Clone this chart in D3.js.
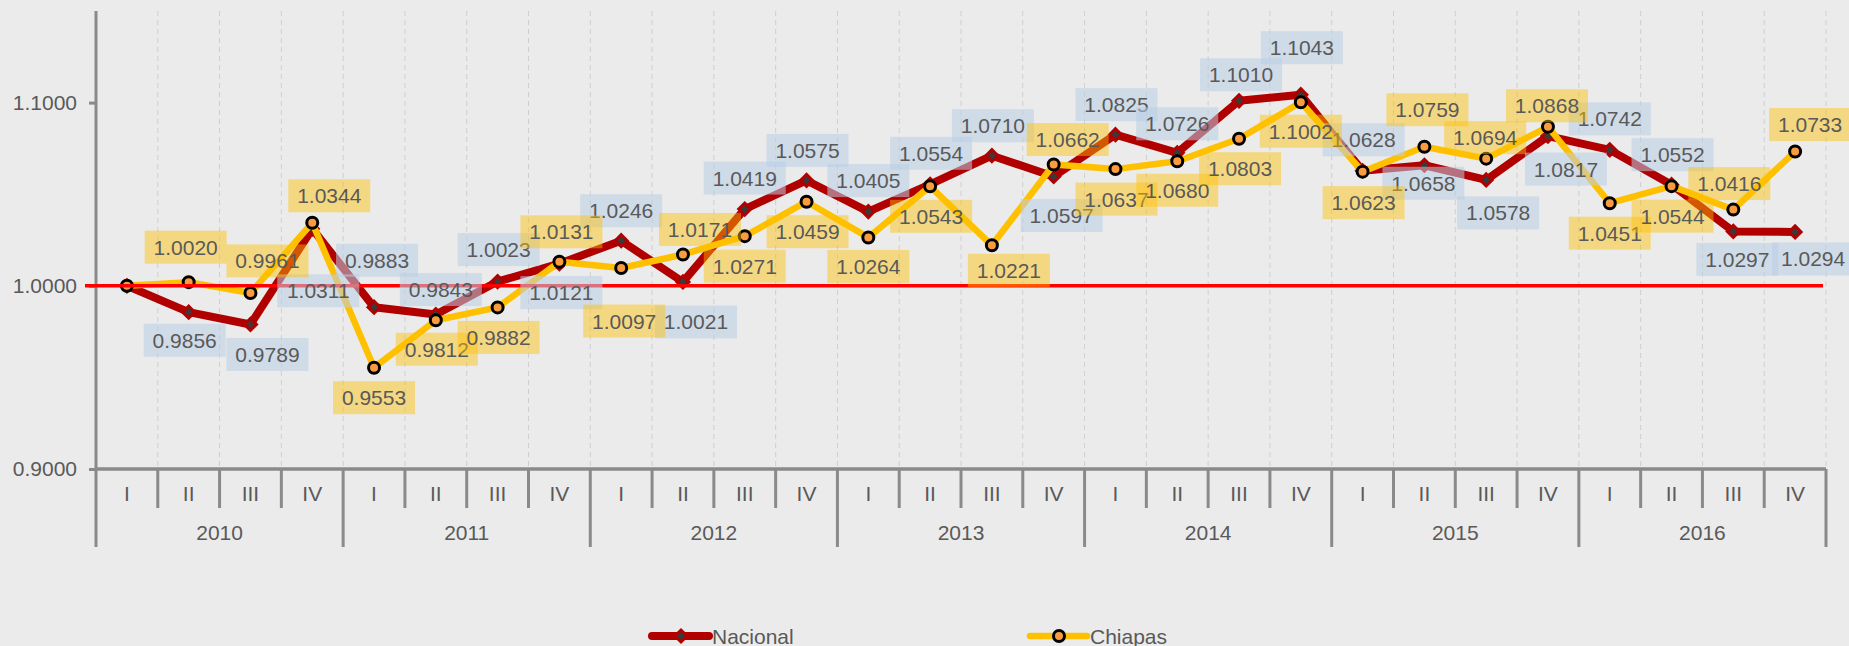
<!DOCTYPE html>
<html>
<head>
<meta charset="utf-8">
<script src="https://cdn.jsdelivr.net/npm/d3@7"></script>
<style>
  html, body { margin: 0; padding: 0; background: #ebebeb; }
  svg { display: block; font-family: "Liberation Sans", Arial, sans-serif; }
</style>
</head>
<body>
<script>
var years = ["2010", "2011", "2012", "2013", "2014", "2015", "2016"];
var quarters = ["I", "II", "III", "IV"];

var nacional = [
    1.0000, 0.9856, 0.9789, 1.0311,
    0.9883, 0.9843, 1.0023, 1.0121,
    1.0246, 1.0021, 1.0419, 1.0575,
    1.0405, 1.0554, 1.0710, 1.0597,
    1.0825, 1.0726, 1.1010, 1.1043,
    1.0628, 1.0658, 1.0578, 1.0817,
    1.0742, 1.0552, 1.0297, 1.0294
];
var chiapas = [
    1.0000, 1.0020, 0.9961, 1.0344,
    0.9553, 0.9812, 0.9882, 1.0131,
    1.0097, 1.0171, 1.0271, 1.0459,
    1.0264, 1.0543, 1.0221, 1.0662,
    1.0637, 1.0680, 1.0803, 1.1002,
    1.0623, 1.0759, 1.0694, 1.0868,
    1.0451, 1.0544, 1.0416, 1.0733
];
var yTicks = [0.9, 1.0, 1.1];
var baseline = 1.0;

// label box offsets from its point (layout only), first point has no label
var nacionalLabelPos = [
    null, [-4, 28], [17, 30], [6, 62],
    [3, -47], [5, -25], [1, -32], [2, 29],
    [0, -30], [13, 40], [0, -31], [1, -30],
    [0, -31], [1, -31], [1, -30], [8, 39],
    [1, -30], [0, -29], [2, -26], [1, -47],
    [1, -31], [-1, 18], [12, 33], [18, 33],
    [0, -31], [1, -30], [4, 28], [18, 27]
];
var chiapasLabelPos = [
    null, [-3, -35], [17, -32], [17, -27],
    [0, 30], [1, 29], [1, 30], [2, -30],
    [3, 53], [17, -25], [0, 30], [1, 30],
    [0, 29], [1, 30], [17, 25], [14, -25],
    [1, 30], [0, 29], [1, 30], [0, 29],
    [1, 31], [3, -37], [-1, -21], [-1, -21],
    [0, 30], [1, 30], [-4, -26], [15, -27]
];

var width = 1849;
var height = 646;
var plotLeft = 96, plotRight = 1826, plotTop = 11, plotBottom = 469;
var textColor = "#595959";
var axisColor = "#8a8a8a";
var redColor = "#b00000";
var goldColor = "#ffc000";

var svg = d3.select("body").append("svg")
    .attr("width", width)
    .attr("height", height);

svg.append("rect")
    .attr("width", width)
    .attr("height", height)
    .style("fill", "#ebebeb");

var idx = d3.range(nacional.length);
var x = d3.scaleBand().domain(idx).range([plotLeft, plotRight]);
var y = d3.scaleLinear().domain([0.9, 1.15]).range([plotBottom, plotTop]);
var cx = function(i){ return x(i) + x.bandwidth() / 2; };

/*
 * GRID
 */
svg.append("g").selectAll("line.grid")
        .data(d3.range(1, nacional.length + 1))
    .enter().append("line")
        .attr("x1", function(d){ return x(0) + d * x.bandwidth(); })
        .attr("x2", function(d){ return x(0) + d * x.bandwidth(); })
        .attr("y1", plotTop)
        .attr("y2", plotBottom)
        .style("stroke", "#cfcfcf")
        .style("stroke-width", 1)
        .style("stroke-dasharray", "5,4");

/*
 * Y AXIS
 */
var yAxis = svg.append("g")
    .attr("transform", "translate(" + plotLeft + ",0)")
    .call(d3.axisLeft(y).tickValues(yTicks).tickFormat(d3.format(".4f")).tickSize(7).tickPadding(12));
yAxis.select(".domain").remove();
yAxis.selectAll(".tick line").style("stroke", axisColor).style("stroke-width", 3);
yAxis.selectAll(".tick text")
    .style("font-size", "21px")
    .style("fill", textColor)
    .style("font-family", "'Liberation Sans', Arial, sans-serif");

svg.append("line")
    .attr("x1", plotLeft).attr("x2", plotLeft)
    .attr("y1", plotTop).attr("y2", 547)
    .style("stroke", axisColor)
    .style("stroke-width", 3);

/*
 * X AXIS
 */
svg.append("line")
    .attr("x1", plotLeft).attr("x2", plotRight)
    .attr("y1", plotBottom).attr("y2", plotBottom)
    .style("stroke", axisColor)
    .style("stroke-width", 3.5);

svg.append("g").selectAll("line.sep")
        .data(d3.range(1, nacional.length + 1))
    .enter().append("line")
        .attr("x1", function(d){ return x(0) + d * x.bandwidth(); })
        .attr("x2", function(d){ return x(0) + d * x.bandwidth(); })
        .attr("y1", plotBottom)
        .attr("y2", function(d){ return d % 4 === 0 ? 547 : 508; })
        .style("stroke", axisColor)
        .style("stroke-width", 3);

svg.append("g").selectAll("text.quarter")
        .data(idx)
    .enter().append("text")
        .attr("x", cx)
        .attr("y", 501)
        .text(function(d){ return quarters[d % 4]; })
        .style("font-size", "21px")
        .style("fill", textColor)
        .style("text-anchor", "middle");

svg.append("g").selectAll("text.year")
        .data(years)
    .enter().append("text")
        .attr("x", function(d, i){ return x(i * 4) + x.bandwidth() * 2; })
        .attr("y", 540)
        .text(function(d){ return d; })
        .style("font-size", "21px")
        .style("fill", textColor)
        .style("text-anchor", "middle");

/*
 * SERIES
 */
var line = d3.line()
    .x(function(d, i){ return cx(i); })
    .y(function(d){ return y(d); });

// square turned 45 degrees, like the office diamond marker
var diamond = d3.symbol().type(d3.symbolSquare).size(72);

svg.append("path")
    .datum(nacional)
    .attr("d", line)
    .style("fill", "none")
    .style("stroke", redColor)
    .style("stroke-width", 8)
    .style("stroke-linejoin", "round");

svg.append("g").selectAll("path.nac")
        .data(nacional)
    .enter().append("path")
        .attr("d", diamond)
        .attr("transform", function(d, i){ return "translate(" + cx(i) + "," + y(d) + ") rotate(45)"; })
        .style("fill", "#3a3a3a")
        .style("stroke", redColor)
        .style("stroke-width", 3);

svg.append("path")
    .datum(chiapas)
    .attr("d", line)
    .style("fill", "none")
    .style("stroke", goldColor)
    .style("stroke-width", 6.5)
    .style("stroke-linejoin", "round");

svg.append("g").selectAll("circle.chi")
        .data(chiapas)
    .enter().append("circle")
        .attr("cx", function(d, i){ return cx(i); })
        .attr("cy", function(d){ return y(d); })
        .attr("r", 5.5)
        .style("fill", "#f99b3f")
        .style("stroke", "#000")
        .style("stroke-width", 3);

// reference line at 1.0
svg.append("line")
    .attr("x1", plotLeft - 11).attr("x2", plotRight - 3)
    .attr("y1", y(baseline)).attr("y2", y(baseline))
    .style("stroke", "#ff0000")
    .style("stroke-width", 3.5);

/*
 * DATA LABELS
 */
function drawLabels(values, pos, fill, opacity){
    var g = svg.append("g").selectAll("g")
            .data(values.map(function(v, i){ return {v: v, i: i, p: pos[i]}; })
                .filter(function(d){ return d.p; }))
        .enter().append("g")
            .attr("transform", function(d){
                return "translate(" + (cx(d.i) + d.p[0]) + "," + (y(d.v) + d.p[1]) + ")";
            });
    g.append("rect")
        .attr("x", -41).attr("y", -16.5)
        .attr("width", 82).attr("height", 33)
        .style("fill", fill)
        .style("fill-opacity", opacity);
    g.append("text")
        .attr("y", 7.5)
        .text(function(d){ return d3.format(".4f")(d.v); })
        .style("font-size", "21px")
        .style("fill", textColor)
        .style("text-anchor", "middle");
}
drawLabels(nacional, nacionalLabelPos, "#b9cde6", 0.55);
drawLabels(chiapas, chiapasLabelPos, "#ffc000", 0.45);

/*
 * LEGEND
 */
var legend = [
    {name: "Nacional", x: 652},
    {name: "Chiapas", x: 1030}
];
var lg = svg.append("g").selectAll("g")
        .data(legend)
    .enter().append("g")
        .attr("transform", function(d){ return "translate(" + d.x + ",636)"; });
lg.append("line")
    .attr("x1", 0).attr("x2", 57)
    .style("stroke", function(d, i){ return i === 0 ? redColor : goldColor; })
    .style("stroke-width", function(d, i){ return i === 0 ? 8 : 6.5; })
    .style("stroke-linecap", "round");
lg.each(function(d, i){
    var el = d3.select(this);
    if ( i === 0 ) {
        el.append("path")
            .attr("d", diamond)
            .attr("transform", "translate(29,0) rotate(45)")
            .style("fill", "#3a3a3a")
            .style("stroke", redColor)
            .style("stroke-width", 3);
    } else {
        el.append("circle")
            .attr("cx", 29).attr("r", 5.5)
            .style("fill", "#f99b3f")
            .style("stroke", "#000")
            .style("stroke-width", 3);
    }
});
lg.append("text")
    .attr("x", 60)
    .attr("y", 7.5)
    .text(function(d){ return d.name; })
    .style("font-size", "21px")
    .style("fill", textColor);
</script>
</body>
</html>
